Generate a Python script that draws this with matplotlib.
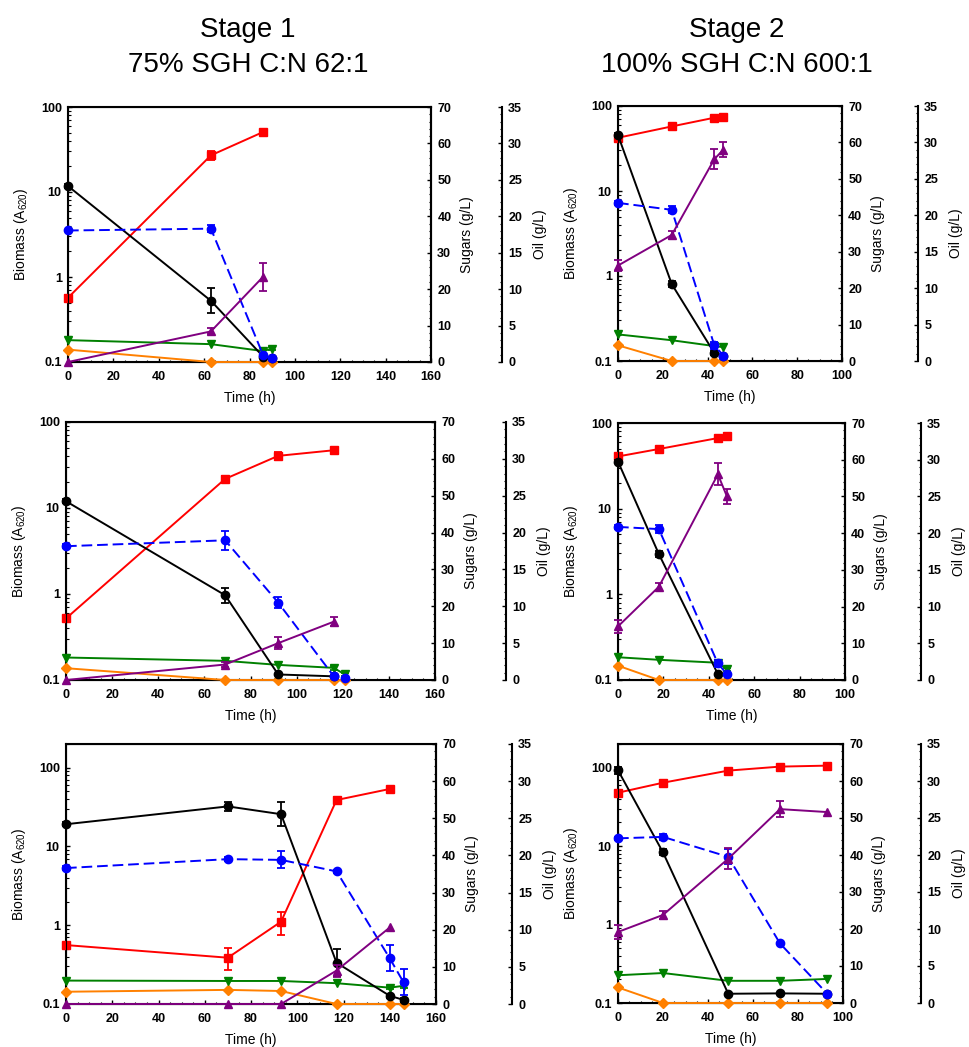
import numpy as np
import matplotlib
matplotlib.use("Agg")
import matplotlib.pyplot as plt
from matplotlib.ticker import MultipleLocator, LogLocator, FuncFormatter, NullFormatter

plt.rcParams["font.family"] = ["Liberation Sans", "DejaVu Sans"]
plt.rcParams["font.weight"] = "bold"          # tick numbers are bold
plt.rcParams["mathtext.fontset"] = "custom"
plt.rcParams["mathtext.rm"] = "Liberation Sans"

nan = np.nan

# ---------------- Stage 1, run 1 ----------------
s1a_time = [0, 63, 86, 90]
s1a_biomass = [0.57, 27.0, 50.8, nan]
s1a_biomass_err = [0.04, 3.0, 2.0, 0]
s1a_glucose = [48.3, 16.8, 1.5, 1.0]
s1a_glucose_err = [0.5, 3.4, 0, 0]
s1a_xylose = [36.1, 36.6, 1.9, 1.0]
s1a_xylose_err = [0, 1.0, 0.5, 0]
s1a_arabinose = [6.0, 4.9, 3.0, 3.7]
s1a_arabinose_err = [0, 0, 0, 0.5]
s1a_other = [3.4, 0, 0, 0]
s1a_oil = [0, 4.2, 11.7, nan]
s1a_oil_err = [0, 0.4, 1.9, 0]

# ---------------- Stage 2, run 1 ----------------
s2a_time = [0, 24, 43, 47]
s2a_biomass = [42.3, 57.5, 72.8, 74.8]
s2a_biomass_err = [0, 0, 0, 0]
s2a_glucose = [62.0, 21.1, 2.2, 1.5]
s2a_glucose_err = [0.5, 0.8, 0.5, 0]
s2a_xylose = [43.4, 41.5, 4.3, 1.5]
s2a_xylose_err = [0.5, 1.0, 1.0, 0]
s2a_arabinose = [7.3, 5.7, 4.1, 3.8]
s2a_arabinose_err = [0, 0, 0, 0]
s2a_other = [4.3, 0, 0, 0]
s2a_oil = [13.1, 17.3, 27.7, 29.0]
s2a_oil_err = [0.8, 0.5, 1.4, 1.0]

# ---------------- Stage 1, run 2 ----------------
s1b_time = [0, 69, 92, 116, 121]
s1b_biomass = [0.52, 21.8, 40.4, 46.9, nan]
s1b_biomass_err = [0.04, 1.5, 4.0, 2.0, 0]
s1b_glucose = [48.5, 23.0, 1.5, 1.0, nan]
s1b_glucose_err = [0.5, 2.0, 0, 0, 0]
s1b_xylose = [36.3, 37.9, 21.0, 1.1, 0.5]
s1b_xylose_err = [0.5, 2.5, 1.5, 0, 0]
s1b_arabinose = [6.1, 5.2, 4.1, 3.3, 1.5]
s1b_arabinose_err = [0, 0, 0, 0.5, 0.5]
s1b_other = [3.2, 0, 0, 0, 0]
s1b_oil = [0, 2.1, 5.0, 7.9, nan]
s1b_oil_err = [0, 0.3, 0.8, 0.6, 0]

# ---------------- Stage 2, run 2 ----------------
s2b_time = [0, 18, 44, 48]
s2b_biomass = [40.7, 49.7, 66.7, 71.1]
s2b_biomass_err = [0, 0, 0, 0]
s2b_glucose = [59.5, 34.3, 1.6, nan]
s2b_glucose_err = [0.5, 0.8, 0, 0]
s2b_xylose = [41.7, 41.1, 4.5, 1.6]
s2b_xylose_err = [0.5, 1.0, 1.0, 0]
s2b_arabinose = [6.2, 5.5, 4.7, 2.9]
s2b_arabinose_err = [0, 0, 0, 0.5]
s2b_other = [3.9, 0, 0, 0]
s2b_oil = [7.3, 12.7, 28.0, 25.0]
s2b_oil_err = [0.9, 0.5, 1.5, 1.0]

# ---------------- Stage 1, run 3 ----------------
s1c_time = [0, 70, 93, 117, 140, 146]
s1c_biomass = [0.56, 0.387, 1.11, 38.9, 53.7, nan]
s1c_biomass_err = [0.03, 0.12, 0.35, 4.0, 2.0, 0]
s1c_glucose = [48.4, 53.2, 51.1, 11.1, 2.2, 1.1]
s1c_glucose_err = [0.5, 1.2, 3.2, 3.6, 0.5, 0.5]
s1c_xylose = [36.6, 39.0, 38.8, 35.7, 12.3, 5.8]
s1c_xylose_err = [0.5, 0.5, 2.3, 0.5, 3.5, 3.5]
s1c_arabinose = [6.3, 6.2, 6.2, 5.6, 4.4, 4.9]
s1c_arabinose_err = [0, 0, 0, 0, 0.4, 0.5]
s1c_other = [3.3, 3.8, 3.5, 0, 0, 0]
s1c_oil = [0, 0, 0, 4.5, 10.3, nan]
s1c_oil_err = [0, 0, 0, 0.8, 0, 0]

# ---------------- Stage 2, run 3 ----------------
s2c_time = [0, 20, 49, 72, 93]
s2c_biomass = [47.9, 64.2, 91.6, 103.0, 106.0]
s2c_biomass_err = [0, 0, 0, 0, 0]
s2c_glucose = [62.9, 40.7, 2.5, 2.6, 2.5]
s2c_glucose_err = [1.0, 0.8, 0, 0, 0]
s2c_xylose = [44.5, 44.9, 39.5, 16.1, 2.5]
s2c_xylose_err = [0.5, 0.8, 2.0, 0, 0]
s2c_arabinose = [7.5, 8.1, 6.0, 6.0, 6.5]
s2c_arabinose_err = [0, 0, 0, 0, 0]
s2c_other = [4.2, 0, 0, 0, 0]
s2c_oil = [9.6, 11.9, 19.5, 26.2, 25.8]
s2c_oil_err = [1.0, 0.5, 1.45, 1.1, 0]

stage_titles = [("Stage 1", "75% SGH C:N 62:1"), ("Stage 2", "100% SGH C:N 600:1")]

W, H = 969, 1047
fig = plt.figure(figsize=(W / 100, H / 100), dpi=100)

RED, BLACK, BLUE = "#ff0000", "#000000", "#0000ff"
GREEN, PURPLE, ORANGE = "#008000", "#800080", "#ff8000"

# panel boxes in pixels: (x0, x1, ytop, ybottom, oil spine offset px)
boxes = {
    "s1a": (68, 431, 107, 362, 71), "s2a": (618, 842, 106, 361, 76),
    "s1b": (66, 435, 422, 680, 71), "s2b": (618, 845, 423, 680, 76),
    "s1c": (66, 436, 744, 1004, 76), "s2c": (618, 843, 744, 1003, 78),
}

panels = [
    ("s1a", s1a_time, s1a_biomass, s1a_biomass_err, s1a_glucose, s1a_glucose_err, s1a_xylose,
     s1a_xylose_err, s1a_arabinose, s1a_arabinose_err, s1a_other, s1a_oil, s1a_oil_err, 160, 100),
    ("s2a", s2a_time, s2a_biomass, s2a_biomass_err, s2a_glucose, s2a_glucose_err, s2a_xylose,
     s2a_xylose_err, s2a_arabinose, s2a_arabinose_err, s2a_other, s2a_oil, s2a_oil_err, 100, 100),
    ("s1b", s1b_time, s1b_biomass, s1b_biomass_err, s1b_glucose, s1b_glucose_err, s1b_xylose,
     s1b_xylose_err, s1b_arabinose, s1b_arabinose_err, s1b_other, s1b_oil, s1b_oil_err, 160, 100),
    ("s2b", s2b_time, s2b_biomass, s2b_biomass_err, s2b_glucose, s2b_glucose_err, s2b_xylose,
     s2b_xylose_err, s2b_arabinose, s2b_arabinose_err, s2b_other, s2b_oil, s2b_oil_err, 100, 100),
    ("s1c", s1c_time, s1c_biomass, s1c_biomass_err, s1c_glucose, s1c_glucose_err, s1c_xylose,
     s1c_xylose_err, s1c_arabinose, s1c_arabinose_err, s1c_other, s1c_oil, s1c_oil_err, 160, 200),
    ("s2c", s2c_time, s2c_biomass, s2c_biomass_err, s2c_glucose, s2c_glucose_err, s2c_xylose,
     s2c_xylose_err, s2c_arabinose, s2c_arabinose_err, s2c_other, s2c_oil, s2c_oil_err, 100, 200),
]

TICK_FS = 9
LABEL_FS = 10
SPINE_LW = 1.5
LINE_LW = 1.4


def style_ticks(axis_obj):
    axis_obj.tick_params(which="major", direction="in", length=3.2, width=1.0,
                         labelsize=TICK_FS, pad=4.5)
    axis_obj.tick_params(which="minor", direction="in", length=1.8, width=0.8)


def series(ax, t, y, err, color, marker, ms, dashed=False):
    t = np.asarray(t, float)
    y = np.asarray(y, float)
    err = np.asarray(err, float)
    style = (0, (5.5, 2.5)) if dashed else "-"
    ax.plot(t, y, linestyle=style, color=color, marker=marker, markersize=ms,
            lw=LINE_LW, markeredgecolor=color, clip_on=False, zorder=3)
    m = (err > 0) & ~np.isnan(y)
    if m.any():
        ax.errorbar(t[m], y[m], yerr=err[m], fmt="none", ecolor=color,
                    elinewidth=1.3, capsize=2.6, capthick=1.3, clip_on=False, zorder=3)


log_fmt = FuncFormatter(lambda v, p: f"{v:g}")
label_kw = dict(fontsize=LABEL_FS, fontweight="normal")

for (key, t, bio, bio_e, glc, glc_e, xyl, xyl_e, ara, ara_e, oth, oil, oil_e,
     xmax, ymax) in panels:
    x0, x1, yt, yb, off = boxes[key]
    rect = [x0 / W, 1 - yb / H, (x1 - x0) / W, (yb - yt) / H]
    ax = fig.add_axes(rect)
    ax2 = ax.twinx()
    ax3 = ax.twinx()

    # biomass, log scale
    ax.set_yscale("log")
    ax.set_ylim(0.1, ymax)
    ax.set_xlim(0, xmax)
    ax.yaxis.set_major_locator(LogLocator(base=10, numticks=10))
    ax.yaxis.set_minor_locator(LogLocator(base=10, subs=np.arange(2, 10), numticks=20))
    ax.yaxis.set_major_formatter(log_fmt)
    ax.yaxis.set_minor_formatter(NullFormatter())
    ax.xaxis.set_major_locator(MultipleLocator(20))
    ax.xaxis.set_minor_locator(MultipleLocator(5))
    style_ticks(ax)
    ax.tick_params(axis="x", pad=6.5)
    for s in ax.spines.values():
        s.set_linewidth(SPINE_LW)
    ax.set_ylabel("Biomass (A$\\mathregular{_{620}}$)", labelpad=8, **label_kw)
    ax.set_xlabel("Time (h)", labelpad=6, **label_kw)

    # sugars, linear
    ax2.set_ylim(0, 70)
    ax2.yaxis.set_major_locator(MultipleLocator(10))
    ax2.yaxis.set_minor_locator(MultipleLocator(2))
    style_ticks(ax2)
    ax2.spines["right"].set_linewidth(SPINE_LW)
    ax2.set_ylabel("Sugars (g/L)", labelpad=6, **label_kw)

    # oil, linear, detached spine
    ax3.set_ylim(0, 35)
    ax3.spines["right"].set_position(("outward", off * 0.72))
    for side in ("left", "top", "bottom"):
        ax3.spines[side].set_visible(False)
    ax3.spines["right"].set_linewidth(SPINE_LW)
    ax3.yaxis.set_major_locator(MultipleLocator(5))
    ax3.yaxis.set_minor_locator(MultipleLocator(1))
    style_ticks(ax3)
    ax3.set_ylabel("Oil (g/L)", labelpad=8, **label_kw)

    series(ax, t, bio, bio_e, RED, "s", 5.5)
    series(ax2, t, oth, np.zeros(len(t)), ORANGE, "D", 4.8)
    series(ax2, t, ara, ara_e, GREEN, "v", 5.5)
    series(ax2, t, glc, glc_e, BLACK, "o", 6)
    series(ax2, t, xyl, xyl_e, BLUE, "o", 6, dashed=True)
    series(ax3, t, oil, oil_e, PURPLE, "^", 5.5)

for (line1, line2), xc in zip(stage_titles, (248, 737)):
    fig.text(xc / W, 1 - 37 / H, line1, ha="center", va="baseline", fontsize=20,
             fontweight="normal")
    fig.text(xc / W, 1 - 72 / H, line2, ha="center", va="baseline", fontsize=20,
             fontweight="normal")

fig.savefig("out.png", dpi=100)
